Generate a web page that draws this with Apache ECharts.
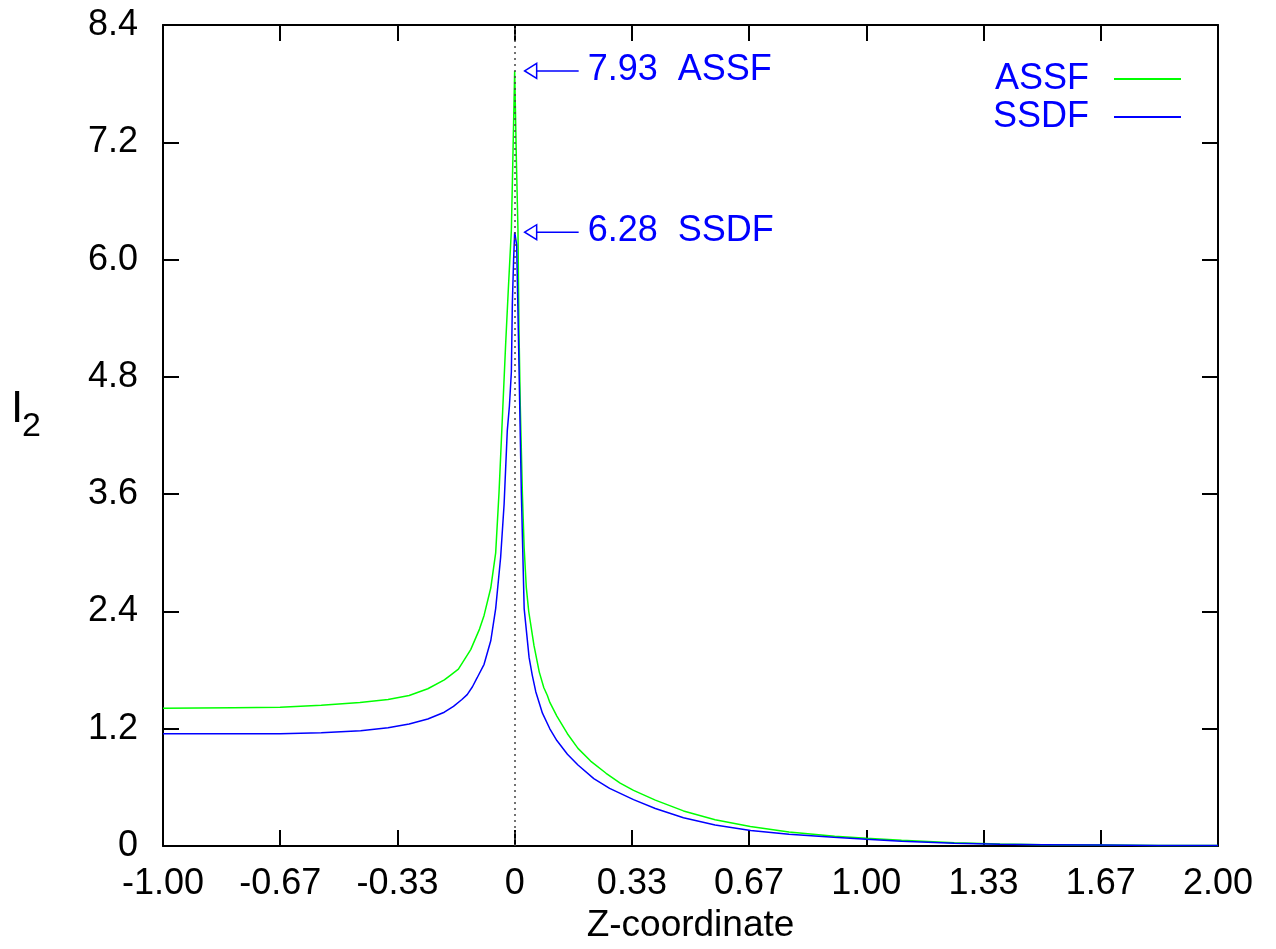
<!DOCTYPE html>
<html>
<head>
<meta charset="utf-8">
<script src="https://cdn.jsdelivr.net/npm/echarts@6/dist/echarts.min.js"></script>
<style>
  html, body { margin: 0; padding: 0; background: #fff; overflow: hidden; }
  #chart { width: 1276px; height: 949px; }
</style>
</head>
<body>
<div id="chart"></div>
<script>
// I2 profile along the Z-coordinate for the two formulations
const zAssf = [-1.00, -0.80, -0.667, -0.55, -0.44, -0.36, -0.30, -0.247, -0.20, -0.182, -0.16, -0.125,
  -0.10, -0.087, -0.068, -0.054, -0.0446, -0.035, -0.0256, -0.018, -0.0094, -0.005, 0,
  0.005, 0.0094, 0.0122, 0.016, 0.022, 0.027, 0.033, 0.040, 0.055, 0.070, 0.083, 0.093, 0.10, 0.12,
  0.15, 0.18, 0.216, 0.26, 0.30, 0.338, 0.40, 0.48, 0.57, 0.67, 0.78, 0.91, 1.00, 1.10, 1.25,
  1.38, 1.50, 1.67, 1.83, 2.00];
const iAssf = [1.41, 1.415, 1.42, 1.44, 1.47, 1.50, 1.54, 1.61, 1.70, 1.75, 1.81, 2.01,
  2.22, 2.36, 2.64, 3.00, 3.61, 4.38, 5.14, 5.70, 6.30, 7.05, 7.93,
  7.00, 6.30, 5.30, 4.50, 3.60, 3.05, 2.65, 2.40, 2.05, 1.78, 1.62, 1.54, 1.47, 1.33,
  1.15, 1.00, 0.87, 0.745, 0.645, 0.57, 0.47, 0.36, 0.27, 0.20, 0.145, 0.10, 0.08, 0.06, 0.035,
  0.022, 0.015, 0.01, 0.007, 0.005];

const zSsdf = [-1.00, -0.80, -0.667, -0.55, -0.438, -0.36, -0.30, -0.247, -0.20, -0.174, -0.15, -0.135,
  -0.12, -0.107, -0.087, -0.068, -0.054, -0.040, -0.030, -0.021, -0.015, -0.0094, -0.0066, -0.003, 0,
  0.0057, 0.012, 0.019, 0.027, 0.041, 0.050, 0.060, 0.079, 0.10, 0.12, 0.15, 0.18, 0.225, 0.27,
  0.338, 0.40, 0.48, 0.57, 0.671, 0.78, 0.907, 1.00, 1.10, 1.25, 1.38, 1.50, 1.67, 1.83, 2.00];
const iSsdf = [1.15, 1.15, 1.15, 1.16, 1.18, 1.21, 1.25, 1.30, 1.37, 1.43, 1.50, 1.55,
  1.63, 1.72, 1.86, 2.10, 2.43, 2.95, 3.50, 4.25, 4.50, 4.85, 5.55, 6.00, 6.28,
  6.15, 4.97, 3.61, 2.43, 1.93, 1.75, 1.58, 1.36, 1.20, 1.08, 0.94, 0.83, 0.69, 0.59,
  0.475, 0.385, 0.29, 0.215, 0.16, 0.12, 0.09, 0.07, 0.05, 0.03, 0.02, 0.015, 0.01, 0.007, 0.005];

const seriesNames = ['ASSF', 'SSDF'];
const xTickLabels = ['-1.00', '-0.67', '-0.33', '0', '0.33', '0.67', '1.00', '1.33', '1.67', '2.00'];
const yTickLabels = ['0', '1.2', '2.4', '3.6', '4.8', '6.0', '7.2', '8.4'];
const xMin = -1, xMax = 2, xStep = 1 / 3;
const yMin = 0, yMax = 8.4, yStep = 1.2;

const FONT = '"Liberation Sans", Arial, Helvetica, sans-serif';
const GREEN = '#00ff00';
const BLUE = '#0000ff';

const pairs = (xs, ys) => xs.map((x, i) => [x, ys[i]]);

// Peak markers: position of the maximum in each curve
function peakOf(xs, ys) {
  let k = 0;
  ys.forEach((v, i) => { if (v > ys[k]) k = i; });
  return [xs[k], ys[k]];
}
const peaks = [
  [...peakOf(zAssf, iAssf), 'ASSF'],
  [...peakOf(zSsdf, iSsdf), 'SSDF']
];

const tickLabel = (labels, min, step) => v => {
  const k = Math.round((v - min) / step);
  return labels[k] !== undefined ? labels[k] : '';
};

const axisCommonX = {
  type: 'value', min: xMin, max: xMax, interval: xStep,
  splitLine: { show: false },
  axisLine: { show: true, onZero: false, lineStyle: { color: '#000', width: 2 } },
  axisTick: { show: true, inside: true, length: 16, lineStyle: { color: '#000', width: 2 } }
};
const axisCommonY = {
  type: 'value', min: yMin, max: yMax, interval: yStep,
  splitLine: { show: false },
  axisLine: { show: true, onZero: false, lineStyle: { color: '#000', width: 2 } },
  axisTick: { show: true, inside: true, length: 16, lineStyle: { color: '#000', width: 2 } }
};

const chart = echarts.init(document.getElementById('chart'), null, { renderer: 'canvas' });

chart.setOption({
  backgroundColor: '#fff',
  animation: false,
  grid: { left: 163, right: 58, top: 25, bottom: 96, containLabel: false },
  xAxis: [
    Object.assign({}, axisCommonX, {
      position: 'bottom',
      name: 'Z-coordinate',
      nameLocation: 'middle',
      nameGap: 55,
      nameTextStyle: { fontFamily: FONT, fontSize: 37, color: '#000' },
      axisLabel: {
        show: true, margin: 20, fontFamily: FONT, fontSize: 36, color: '#000',
        formatter: tickLabel(xTickLabels, xMin, xStep)
      }
    }),
    Object.assign({}, axisCommonX, { position: 'top', axisLabel: { show: false } })
  ],
  yAxis: [
    Object.assign({}, axisCommonY, {
      position: 'left',
      axisLabel: {
        show: true, margin: 25, fontFamily: FONT, fontSize: 36, color: '#000',
        formatter: tickLabel(yTickLabels, yMin, yStep)
      }
    }),
    Object.assign({}, axisCommonY, { position: 'right', axisLabel: { show: false } })
  ],
  legend: {
    data: seriesNames,
    orient: 'vertical',
    align: 'right',
    right: 95,
    top: 61,
    padding: 0,
    itemGap: 2,
    itemWidth: 67,
    itemHeight: 2,
    icon: 'rect',
    textStyle: { fontFamily: FONT, fontSize: 36, color: BLUE, lineHeight: 35, padding: [0, 20, 0, 0] },
    selectedMode: false
  },
  graphic: [
    { type: 'text', left: 11, top: 388,
      style: { text: 'I', fontFamily: FONT, fontSize: 44, fill: '#000' } },
    { type: 'text', left: 22, top: 410,
      style: { text: '2', fontFamily: FONT, fontSize: 34, fill: '#000' } }
  ],
  series: [
    {
      name: 'ASSF', type: 'line', xAxisIndex: 0, yAxisIndex: 0,
      data: pairs(zAssf, iAssf),
      showSymbol: false, symbol: 'none', smooth: false,
      lineStyle: { color: GREEN, width: 1.5 }, itemStyle: { color: GREEN },
      z: 3,
      markLine: {
        silent: true, symbol: 'none', animation: false,
        label: { show: false },
        lineStyle: { color: '#444', width: 1.5, type: [2, 4] },
        data: [{ xAxis: 0 }]
      }
    },
    {
      name: 'SSDF', type: 'line', xAxisIndex: 0, yAxisIndex: 0,
      data: pairs(zSsdf, iSsdf),
      showSymbol: false, symbol: 'none', smooth: false,
      lineStyle: { color: BLUE, width: 1.5 }, itemStyle: { color: BLUE },
      z: 4
    },
    {
      // arrow + value annotation pointing at each peak
      name: 'peaks', type: 'custom', xAxisIndex: 0, yAxisIndex: 0,
      data: peaks, silent: true, z: 5,
      renderItem: function (params, api) {
        const p = api.coord([api.value(0), api.value(1)]);
        const tip = p[0] + 10, y = p[1];
        const label = api.value(1).toFixed(2) + '  ' + peaks[params.dataIndex][2];
        return {
          type: 'group',
          children: [
            { type: 'line', shape: { x1: tip + 8, y1: y, x2: tip + 54, y2: y },
              style: { stroke: BLUE, lineWidth: 1.5 } },
            { type: 'polygon', shape: { points: [[tip, y], [tip + 12, y - 7.5], [tip + 12, y + 7.5]] },
              style: { fill: '#fff', stroke: BLUE, lineWidth: 1.5 } },
            { type: 'text', x: tip + 63, y: y - 1,
              style: { text: label, fill: BLUE, fontFamily: FONT, fontSize: 36,
                       verticalAlign: 'middle', align: 'left' } }
          ]
        };
      }
    }
  ]
});
</script>
</body>
</html>
